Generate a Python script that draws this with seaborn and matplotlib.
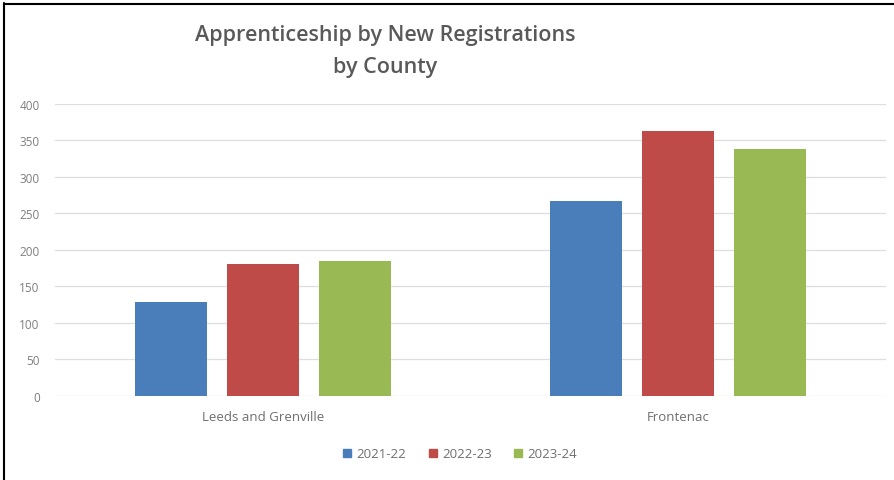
import matplotlib
matplotlib.use("Agg")
import matplotlib.pyplot as plt
import seaborn as sns
import pandas as pd
from matplotlib.lines import Line2D

counties = ["Leeds and Grenville", "Frontenac"]
years = ["2021-22", "2022-23", "2023-24"]
reg_2021_22 = [128, 267]
reg_2022_23 = [180, 362]
reg_2023_24 = [184, 338]
colors = ["#4a7ebb", "#be4b48", "#98b954"]
y_ticks = [0, 50, 100, 150, 200, 250, 300, 350, 400]

rows = []
for yr, vals in zip(years, [reg_2021_22, reg_2022_23, reg_2023_24]):
    for c, v in zip(counties, vals):
        rows.append({"County": c, "Year": yr, "Registrations": v})
df = pd.DataFrame(rows)

sns.set_theme(style="white")
plt.rcParams["font.family"] = ["Open Sans", "DejaVu Sans"]

fig = plt.figure(figsize=(8.95, 4.81), dpi=100)
ax = fig.add_axes([55 / 895, 1 - 396.7 / 481, 831 / 895, 292 / 481])

sns.barplot(data=df, x="County", y="Registrations", hue="Year",
            order=counties, hue_order=years, palette=colors,
            width=0.665, gap=0.22, saturation=1, legend=False, ax=ax,
            linewidth=0, zorder=3)

ax.set_ylim(0, 400)
ax.set_yticks(y_ticks)
ax.set_yticklabels([str(t) for t in y_ticks], fontsize=8.5, color="#7f7f7f")
ax.set_xlim(-0.5, 1.5)
ax.tick_params(axis="x", labelsize=9.5, labelcolor="#6f6f6f", length=0, pad=10)
ax.tick_params(axis="y", length=0, pad=11)
ax.set_xlabel("")
ax.set_ylabel("")
ax.yaxis.grid(True, color="#dedede", linewidth=0.9, zorder=0)
ax.set_axisbelow(True)
for s in ax.spines.values():
    s.set_visible(False)

fig.text(385 / 895, 1 - 35 / 481, "Apprenticeship by New Registrations",
         ha="center", va="center", fontsize=15.5, fontweight="semibold", color="#595959")
fig.text(385 / 895, 1 - 67 / 481, "by County",
         ha="center", va="center", fontsize=15.5, fontweight="semibold", color="#595959")

handles = [Line2D([], [], marker="s", linestyle="", markersize=6,
                  markerfacecolor=c, markeredgecolor=c) for c in colors]
fig.legend(handles, years, loc="center", bbox_to_anchor=(459 / 895, 1 - 455 / 481),
           ncol=3, frameon=False, fontsize=9.5, labelcolor="#6f6f6f",
           handletextpad=0.2, columnspacing=1.5, handlelength=1)

# Frame lines along the top and left edges
fig.add_artist(Line2D([4 / 895, 1], [1 - 4.5 / 481, 1 - 4.5 / 481], color="black", linewidth=1.5))
fig.add_artist(Line2D([4.5 / 895, 4.5 / 895], [0, 1 - 4 / 481], color="black", linewidth=1.5))

fig.savefig("out.png", dpi=100)
